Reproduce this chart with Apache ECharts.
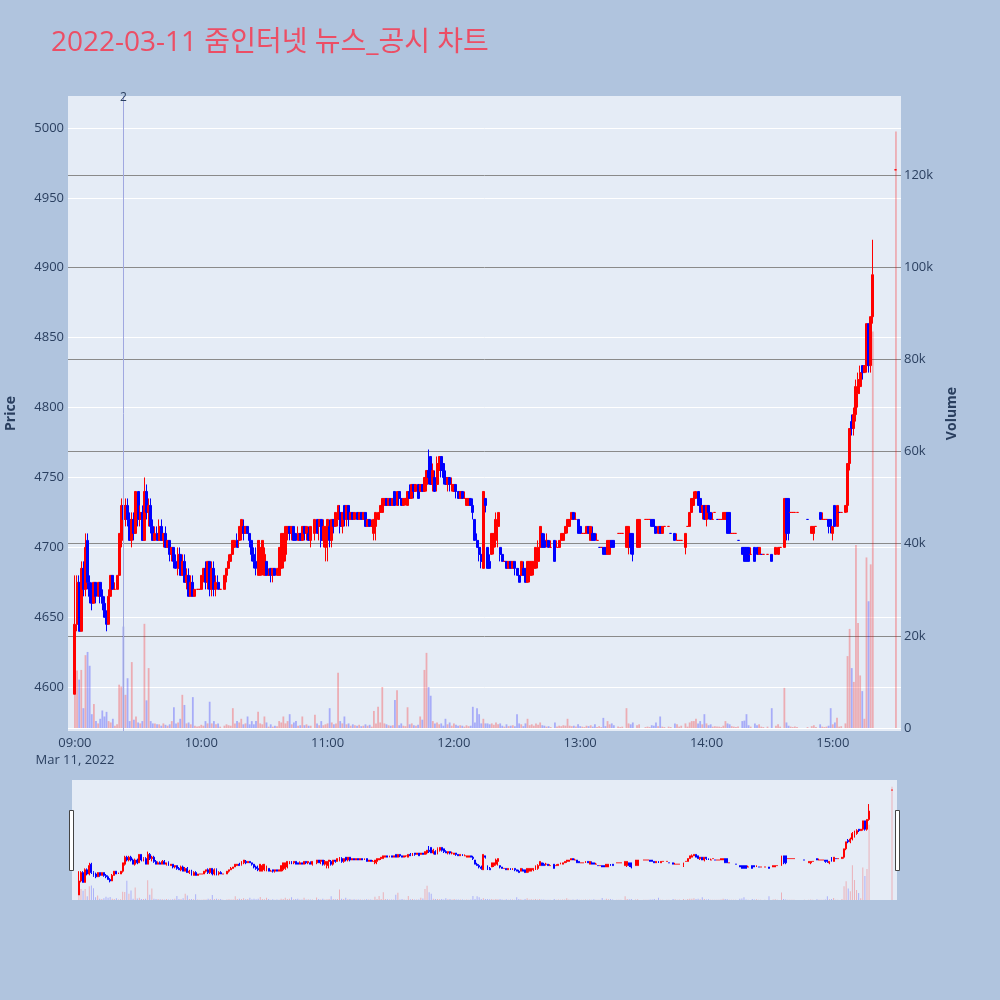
<!DOCTYPE html>
<html>
<head>
<meta charset="utf-8">
<script src="https://cdn.jsdelivr.net/npm/echarts@6/dist/echarts.min.js"></script>
<style>
html, body { margin: 0; padding: 0; background: #B0C4DE; }
#chart { width: 1000px; height: 1000px; }
</style>
</head>
<body>
<div id="chart"></div>
<script>
// minutes after 09:00 (one candle per traded minute)
var minutes = [
 0,1,2,3,4,5,6,7,8,9,
 10,11,12,13,14,15,16,17,18,19,
 20,21,22,23,24,25,26,27,28,29,
 30,31,32,33,34,35,36,37,38,39,
 40,41,42,43,44,45,46,47,48,49,
 50,51,52,53,54,55,56,57,58,59,
 60,61,62,63,64,65,66,67,68,69,
 71,72,73,74,75,76,77,78,79,80,
 81,82,83,84,85,86,87,88,89,90,
 91,92,93,94,95,96,97,98,99,100,
 101,102,103,104,105,106,107,108,109,110,
 111,112,114,115,116,117,118,119,120,121,
 122,123,124,125,126,127,128,129,130,131,
 132,133,134,135,136,137,138,139,140,141,
 142,143,144,145,146,147,148,149,150,151,
 152,153,154,155,156,157,158,159,160,161,
 162,163,164,165,166,167,168,169,170,171,
 172,173,174,175,176,177,178,179,180,181,
 182,183,184,185,186,187,188,189,190,191,
 192,193,194,195,196,197,198,199,200,201,
 202,203,204,205,206,207,208,209,210,211,
 212,213,214,215,216,217,218,219,220,221,
 222,223,224,225,226,228,229,230,231,232,
 233,234,235,236,237,238,239,240,241,242,
 243,244,245,246,247,248,249,250,251,252,
 253,254,255,256,258,259,260,262,263,264,
 265,267,268,271,272,273,274,275,276,277,
 278,279,280,282,283,285,286,287,288,290,
 291,292,293,294,295,296,297,298,299,300,
 301,302,303,304,305,306,307,308,309,310,
 311,312,313,314,315,317,318,319,320,321,
 323,324,325,326,327,329,331,333,334,335,
 337,338,339,340,341,342,343,348,350,351,
 352,354,355,356,357,358,359,360,361,362,
 363,364,366,367,368,369,370,371,372,373,
 374,375,376,377,378,379,390
];

var opens = [
 4595,4645,4675,4640,4685,4670,4705,4675,4670,4660,
 4675,4665,4675,4665,4660,4650,4645,4665,4680,4670,
 4670,4680,4705,4730,4720,4730,4720,4705,4720,4710,
 4740,4720,4725,4705,4740,4725,4730,4715,4705,4710,
 4705,4715,4705,4710,4700,4705,4695,4700,4690,4685,
 4695,4680,4690,4675,4680,4665,4675,4665,4670,4670,
 4670,4680,4685,4675,4690,4670,4685,4670,4675,4670,
 4670,4680,4685,4690,4695,4700,4705,4705,4710,4715,
 4710,4715,4710,4705,4695,4690,4680,4680,4685,4680,
 4690,4680,4685,4680,4685,4680,4680,4685,4690,4695,
 4710,4715,4710,4715,4710,4705,4710,4705,4715,4710,
 4710,4705,4710,4720,4715,4720,4705,4700,4715,4715,
 4705,4720,4715,4720,4725,4715,4730,4720,4730,4720,
 4725,4720,4725,4720,4725,4720,4725,4715,4720,4715,
 4710,4715,4720,4725,4725,4730,4735,4730,4735,4730,
 4740,4730,4740,4735,4730,4735,4730,4740,4735,4745,
 4740,4745,4740,4745,4740,4745,4755,4765,4745,4750,
 4745,4755,4765,4760,4750,4745,4750,4745,4740,4745,
 4740,4735,4740,4735,4730,4730,4735,4730,4720,4705,
 4700,4695,4685,4735,4700,4690,4695,4700,4705,4715,
 4700,4695,4690,4690,4685,4690,4685,4690,4685,4680,
 4680,4685,4685,4675,4680,4680,4685,4685,4690,4700,
 4710,4705,4705,4705,4700,4705,4700,4700,4705,4705,
 4710,4715,4715,4720,4725,4720,4720,4715,4710,4710,
 4710,4715,4705,4710,4710,4705,4700,4700,4700,4700,
 4695,4695,4705,4705,4710,4710,4710,4700,4700,4710,
 4710,4700,4700,4720,4720,4720,4720,4720,4715,4710,
 4715,4710,4715,4715,4710,4710,4705,4705,4705,4700,
 4715,4715,4725,4730,4735,4740,4735,4725,4730,4720,
 4730,4725,4720,4725,4720,4720,4720,4720,4720,4725,
 4725,4710,4710,4710,4705,4700,4700,4700,4700,4695,
 4700,4700,4695,4695,4695,4695,4695,4695,4695,4700,
 4700,4735,4735,4725,4725,4725,4725,4720,4710,4710,
 4715,4725,4720,4720,4720,4720,4720,4710,4730,4715,
 4725,4725,4725,4730,4760,4790,4785,4795,4810,4815,
 4830,4825,4830,4860,4830,4865,4970
];

var closes = [
 4645,4675,4640,4685,4670,4700,4675,4665,4660,4675,
 4665,4675,4665,4660,4650,4645,4665,4680,4670,4670,
 4680,4710,4730,4720,4730,4720,4705,4720,4710,4740,
 4720,4725,4705,4740,4725,4730,4715,4705,4710,4705,
 4715,4705,4710,4700,4705,4695,4700,4690,4685,4695,
 4680,4690,4675,4680,4665,4675,4665,4670,4670,4670,
 4680,4685,4675,4690,4670,4685,4670,4675,4670,4670,
 4680,4685,4690,4695,4705,4705,4700,4715,4720,4710,
 4715,4710,4705,4695,4690,4685,4705,4700,4705,4695,
 4680,4680,4680,4685,4680,4685,4700,4710,4710,4715,
 4715,4710,4715,4705,4705,4710,4705,4715,4710,4715,
 4705,4715,4720,4710,4720,4705,4715,4715,4720,4705,
 4720,4715,4725,4730,4715,4725,4720,4730,4720,4725,
 4720,4725,4720,4725,4720,4725,4715,4720,4715,4715,
 4720,4725,4725,4730,4735,4735,4730,4735,4730,4735,
 4730,4740,4735,4730,4735,4735,4740,4735,4745,4740,
 4745,4735,4745,4740,4750,4755,4750,4745,4755,4740,
 4760,4765,4755,4750,4745,4750,4745,4745,4745,4740,
 4735,4740,4735,4735,4735,4735,4730,4725,4705,4700,
 4695,4690,4740,4730,4685,4685,4710,4710,4720,4725,
 4695,4690,4690,4685,4690,4685,4690,4685,4680,4675,
 4690,4680,4675,4690,4690,4690,4690,4700,4700,4715,
 4700,4700,4705,4700,4700,4690,4700,4705,4710,4710,
 4715,4720,4720,4725,4720,4720,4710,4710,4710,4710,
 4715,4710,4715,4705,4705,4705,4700,4700,4695,4695,
 4705,4705,4700,4700,4710,4710,4710,4715,4715,4700,
 4695,4720,4720,4720,4720,4720,4715,4715,4710,4715,
 4710,4715,4715,4715,4710,4705,4705,4705,4705,4710,
 4715,4725,4735,4735,4740,4730,4725,4730,4720,4730,
 4725,4720,4720,4725,4720,4720,4720,4725,4725,4710,
 4710,4710,4710,4710,4705,4695,4690,4690,4690,4695,
 4690,4695,4700,4695,4695,4695,4690,4700,4700,4700,
 4735,4710,4710,4725,4725,4725,4725,4720,4715,4715,
 4715,4720,4720,4720,4720,4715,4715,4715,4715,4730,
 4725,4725,4730,4760,4785,4785,4795,4815,4820,4825,
 4825,4830,4860,4830,4865,4895,4970
];

var lows = [
 4595,4640,4640,4640,4665,4665,4670,4660,4655,4660,
 4660,4665,4660,4655,4650,4640,4645,4665,4670,4670,
 4670,4675,4700,4715,4715,4715,4705,4700,4705,4710,
 4715,4715,4705,4705,4720,4715,4710,4705,4705,4705,
 4705,4705,4700,4700,4700,4690,4690,4685,4685,4680,
 4680,4680,4675,4670,4665,4665,4665,4665,4670,4670,
 4670,4675,4670,4670,4665,4665,4665,4665,4670,4670,
 4670,4675,4685,4690,4695,4700,4700,4700,4705,4705,
 4710,4710,4700,4690,4685,4680,4680,4680,4680,4680,
 4680,4680,4675,4675,4680,4680,4680,4680,4685,4690,
 4705,4705,4705,4705,4705,4705,4705,4705,4705,4705,
 4705,4700,4705,4710,4705,4700,4700,4690,4690,4700,
 4700,4710,4715,4715,4710,4710,4715,4715,4715,4720,
 4720,4720,4720,4720,4720,4720,4715,4715,4715,4715,
 4705,4705,4720,4720,4725,4730,4730,4730,4730,4730,
 4730,4730,4730,4730,4730,4730,4730,4735,4735,4735,
 4740,4735,4740,4740,4740,4740,4745,4745,4740,4740,
 4740,4750,4750,4745,4745,4740,4740,4740,4740,4735,
 4735,4735,4735,4735,4730,4730,4730,4720,4705,4700,
 4690,4685,4685,4725,4685,4685,4695,4695,4700,4700,
 4690,4690,4690,4685,4685,4685,4685,4680,4680,4675,
 4680,4680,4675,4675,4675,4680,4680,4685,4685,4700,
 4700,4700,4700,4700,4700,4690,4700,4700,4705,4705,
 4710,4710,4715,4720,4720,4720,4710,4710,4710,4710,
 4710,4710,4705,4705,4705,4705,4700,4700,4695,4695,
 4695,4695,4700,4700,4710,4710,4710,4700,4695,4695,
 4690,4700,4700,4720,4720,4720,4715,4715,4710,4710,
 4710,4710,4715,4715,4710,4705,4705,4705,4705,4695,
 4715,4715,4725,4730,4735,4730,4725,4720,4720,4715,
 4720,4720,4720,4725,4720,4720,4720,4720,4720,4710,
 4710,4710,4710,4710,4705,4695,4690,4690,4690,4695,
 4690,4695,4695,4695,4695,4695,4690,4695,4695,4700,
 4700,4705,4705,4725,4725,4725,4725,4720,4710,4705,
 4715,4720,4720,4720,4720,4710,4710,4705,4715,4715,
 4725,4725,4725,4725,4755,4780,4780,4790,4800,4810,
 4820,4825,4825,4825,4825,4860,4970
];

var highs = [
 4680,4680,4680,4690,4690,4710,4710,4680,4675,4675,
 4675,4675,4675,4670,4665,4655,4670,4680,4680,4675,
 4680,4710,4735,4735,4735,4735,4725,4725,4725,4740,
 4740,4730,4730,4750,4745,4735,4735,4720,4715,4715,
 4720,4720,4710,4715,4705,4705,4700,4700,4695,4700,
 4700,4695,4695,4685,4685,4680,4680,4670,4670,4670,
 4680,4685,4690,4690,4690,4690,4690,4680,4680,4670,
 4680,4685,4695,4695,4705,4705,4710,4715,4720,4720,
 4715,4715,4710,4705,4700,4700,4705,4705,4705,4700,
 4690,4685,4685,4685,4685,4685,4700,4710,4710,4715,
 4715,4715,4715,4715,4710,4715,4710,4715,4715,4715,
 4715,4715,4720,4720,4720,4720,4720,4715,4720,4720,
 4720,4720,4725,4730,4730,4725,4730,4730,4730,4725,
 4725,4725,4725,4725,4725,4725,4725,4720,4720,4720,
 4720,4725,4725,4730,4735,4735,4735,4735,4735,4735,
 4740,4740,4740,4735,4735,4735,4740,4745,4745,4745,
 4745,4745,4745,4745,4750,4755,4770,4765,4760,4755,
 4765,4765,4765,4760,4755,4750,4750,4750,4745,4745,
 4740,4740,4740,4740,4735,4735,4735,4735,4720,4710,
 4705,4700,4740,4735,4700,4695,4710,4710,4725,4725,
 4700,4695,4690,4690,4690,4690,4690,4690,4685,4685,
 4690,4690,4685,4690,4690,4690,4690,4700,4705,4715,
 4710,4710,4710,4705,4705,4705,4705,4705,4710,4710,
 4715,4720,4720,4725,4725,4725,4720,4715,4710,4710,
 4715,4715,4715,4715,4710,4710,4700,4700,4700,4700,
 4705,4705,4705,4705,4710,4710,4710,4715,4715,4710,
 4710,4720,4720,4720,4720,4720,4720,4720,4715,4715,
 4715,4715,4715,4715,4710,4710,4710,4705,4705,4710,
 4715,4725,4735,4740,4740,4740,4735,4730,4730,4730,
 4730,4725,4725,4725,4720,4720,4720,4725,4725,4725,
 4725,4710,4710,4710,4705,4700,4700,4700,4700,4700,
 4700,4700,4700,4695,4695,4695,4695,4700,4700,4700,
 4735,4735,4735,4725,4725,4725,4725,4720,4715,4715,
 4715,4725,4725,4720,4720,4720,4720,4715,4730,4730,
 4725,4725,4730,4760,4785,4795,4800,4820,4825,4830,
 4830,4830,4860,4860,4865,4920,4970
];

var volumes = [
 12600,12500,10500,12600,4300,15800,16500,13500,3000,5200,
 1500,1000,2000,3800,2500,3500,1500,1200,2000,500,
 800,9400,9000,22000,7200,10800,1500,14300,1800,2500,
 1200,1000,1500,22600,6000,13000,1500,1000,1000,800,
 800,500,1000,700,500,800,1500,4500,1000,1200,
 2000,7200,5000,1000,1200,800,6700,500,300,400,
 700,500,1500,1000,5700,1000,1500,800,1000,300,
 500,800,600,500,4300,1000,1500,1200,2000,800,
 1000,2500,800,1500,800,1500,3500,1000,800,2500,
 1200,300,800,300,500,400,1500,1200,2500,1000,
 1500,3000,800,1200,1500,500,600,2500,600,800,
 500,500,2900,1000,600,1500,600,800,1000,4300,
 1200,800,1000,12000,1500,1000,2500,800,1000,500,
 800,600,500,700,400,500,800,500,700,300,
 3700,1000,4600,1200,8900,1000,800,600,500,600,
 6100,8200,600,1000,500,400,4500,800,1000,600,
 500,700,2500,1800,12600,16300,8900,7000,1500,1000,
 1200,800,1000,500,2000,800,1200,500,1000,700,
 500,600,500,300,600,400,500,4600,1200,4300,
 3000,1000,2000,1000,1000,800,1000,700,1200,800,
 1000,500,300,800,400,500,600,400,3000,1000,
 800,400,1000,2000,600,800,500,1000,700,1200,
 600,500,300,400,200,1200,300,500,400,600,
 500,2000,500,400,500,300,800,400,300,200,
 500,400,600,300,800,200,400,200,2200,400,
 1500,800,1000,600,300,200,300,4300,1000,800,
 1200,600,800,200,300,200,600,500,1200,400,
 2500,300,200,300,200,1000,800,300,500,1000,
 300,1200,1500,1500,2000,1000,1500,800,3000,1000,
 600,800,300,400,300,300,200,500,1500,1000,
 800,400,300,200,300,1500,1600,3000,600,300,
 1000,600,800,300,200,300,4300,500,800,300,
 8700,1200,500,300,200,300,200,200,400,600,
 200,800,300,200,300,500,4300,800,1200,2200,
 300,400,1000,15600,21500,13000,10000,39700,22800,11400,
 8000,2000,37000,27500,35500,86000,129400
];

var priceTicks = [4600, 4650, 4700, 4750, 4800, 4850, 4900, 4950, 5000];
var volumeTicks = [0, 20000, 40000, 60000, 80000, 100000, 120000];
var hourTicks = [0, 60, 120, 180, 240, 300, 360];
var newsMinute = 23;
var newsLabel = '2';

var FONT = "'Open Sans', 'Noto Sans CJK KR', sans-serif";
var INK = '#2a3f5f';
var xMin = -3.3, xMax = 392.4;

var candles = minutes.map(function (m, i) {
    return [m, opens[i], closes[i], lows[i], highs[i]];
});
function volItems(alpha) {
    return minutes.map(function (m, i) {
        var up = closes[i] >= opens[i];
        return {
            value: [m, volumes[i]],
            itemStyle: { color: up ? 'rgba(255,0,0,' + alpha + ')' : 'rgba(0,0,255,' + alpha + ')' }
        };
    });
}
function hourLabel(v) {
    var h = 9 + Math.round(v / 60);
    var s = (h < 10 ? '0' : '') + h + ':00';
    return v === 0 ? s + '\nMar 11, 2022' : s;
}
var candleStyle = {
    color: '#ff0000', color0: '#0000ff',
    borderColor: '#ff0000', borderColor0: '#0000ff', borderWidth: 1
};

var chart = echarts.init(document.getElementById('chart'));
chart.setOption({
    animation: false,
    backgroundColor: '#B0C4DE',
    textStyle: { fontFamily: FONT },
    title: {
        text: '2022-03-11 줌인터넷 뉴스_공시 차트',
        left: 46, top: 24,
        textStyle: { color: '#EC4E65', fontSize: 28, fontWeight: 'normal', fontFamily: FONT }
    },
    grid: [
        { left: 68, right: 99, top: 96, height: 635, show: true, backgroundColor: '#E5ECF6', borderWidth: 0, outerBoundsMode: 'none' },
        { left: 72, right: 103, top: 780, height: 120, show: true, backgroundColor: '#E5ECF6', borderWidth: 0, outerBoundsMode: 'none' }
    ],
    xAxis: [
        {
            type: 'value', gridIndex: 0, min: xMin, max: xMax,
            axisLine: { show: false },
            axisTick: { show: false, customValues: hourTicks },
            splitLine: { show: false },
            axisLabel: {
                customValues: hourTicks, formatter: hourLabel,
                color: INK, fontSize: 13, lineHeight: 17, margin: 4, fontFamily: FONT
            }
        },
        { type: 'value', gridIndex: 1, min: xMin, max: xMax, show: false }
    ],
    yAxis: [
        {
            type: 'value', gridIndex: 0, position: 'left', min: 4568.7, max: 5022.8,
            axisLine: { show: false },
            axisTick: { show: false, customValues: priceTicks },
            axisLabel: {
                customValues: priceTicks, color: INK, fontSize: 13, margin: 4, fontFamily: FONT,
                formatter: function (v) { return String(v); }
            },
            splitLine: { show: true, lineStyle: { color: '#ffffff', width: 1 } },
            name: 'Price', nameLocation: 'middle', nameGap: 50,
            nameTextStyle: { color: INK, fontSize: 14, fontWeight: 'bold', fontFamily: FONT }
        },
        {
            type: 'value', gridIndex: 0, position: 'right', min: -650, max: 137100,
            axisLine: { show: false },
            axisTick: { show: false, customValues: volumeTicks },
            axisLabel: {
                customValues: volumeTicks, color: INK, fontSize: 13, margin: 3, fontFamily: FONT,
                formatter: function (v) { return v === 0 ? '0' : (v / 1000) + 'k'; }
            },
            splitLine: {
                show: true,
                lineStyle: { color: ['#ffffff', '#8a8a8a', '#8a8a8a', '#8a8a8a', '#8a8a8a', '#8a8a8a', '#8a8a8a'], width: 1 }
            },
            name: 'Volume', nameLocation: 'middle', nameGap: 44,
            nameTextStyle: { color: INK, fontSize: 14, fontWeight: 'bold', fontFamily: FONT }
        },
        { type: 'value', gridIndex: 1, min: 4577, max: 5006, show: false },
        { type: 'value', gridIndex: 1, min: 0, max: 137100, show: false }
    ],
    series: [
        {
            name: 'price', type: 'candlestick', xAxisIndex: 0, yAxisIndex: 0,
            dimensions: ['t', 'open', 'close', 'lowest', 'highest'],
            encode: { x: 't', y: ['open', 'close', 'lowest', 'highest'] },
            data: candles, barWidth: 2.5, itemStyle: candleStyle, z: 3,
            markLine: {
                silent: true, symbol: ['none', 'none'], animation: false,
                lineStyle: { color: '#a0a8e0', width: 1, type: 'solid' },
                label: { show: true, position: 'end', formatter: newsLabel, color: INK, fontSize: 12, distance: -8 },
                data: [{ xAxis: newsMinute }]
            }
        },
        {
            name: 'volume', type: 'bar', xAxisIndex: 0, yAxisIndex: 1,
            data: volItems(0.27), barWidth: 1.8, z: 4
        },
        {
            name: 'price-mini', type: 'candlestick', xAxisIndex: 1, yAxisIndex: 2,
            dimensions: ['t', 'open', 'close', 'lowest', 'highest'],
            encode: { x: 't', y: ['open', 'close', 'lowest', 'highest'] },
            data: candles, barWidth: 1.4, itemStyle: candleStyle, silent: true
        },
        {
            name: 'volume-mini', type: 'bar', xAxisIndex: 1, yAxisIndex: 3,
            data: volItems(0.25), barWidth: 1, silent: true
        }
    ],
    graphic: [
        { type: 'rect', shape: { x: 69.5, y: 810.5, width: 4, height: 60 }, style: { fill: '#ffffff', stroke: '#444444', lineWidth: 1 } },
        { type: 'rect', shape: { x: 895.5, y: 810.5, width: 4, height: 60 }, style: { fill: '#ffffff', stroke: '#444444', lineWidth: 1 } }
    ]
});
</script>
</body>
</html>
